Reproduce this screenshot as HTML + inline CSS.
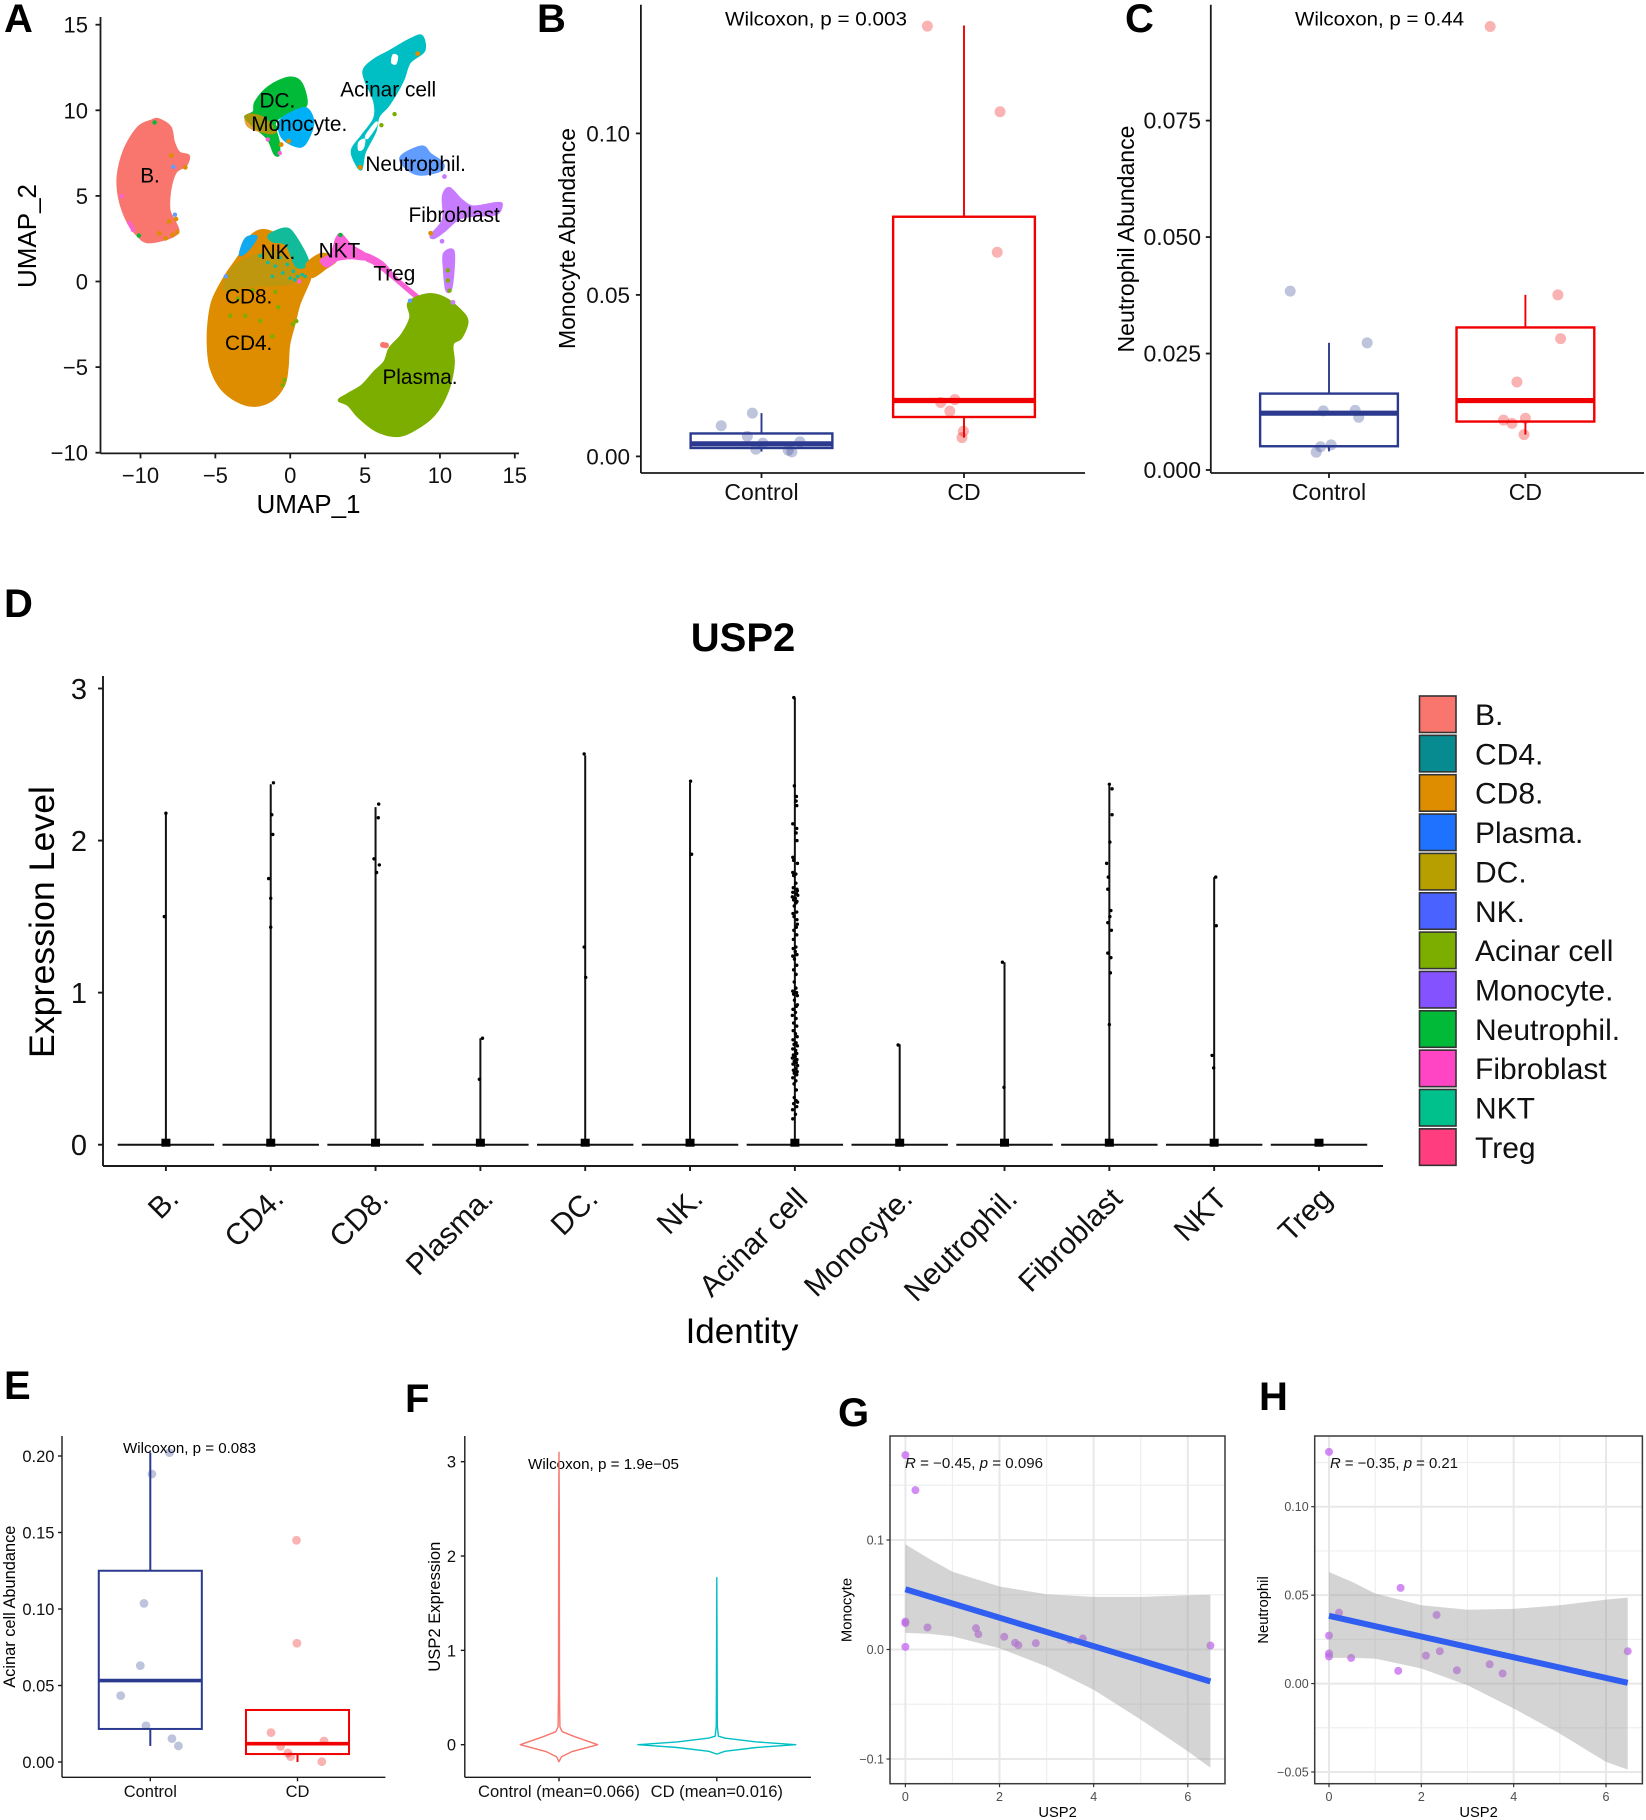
<!DOCTYPE html>
<html lang="en">
<head>
<meta charset="utf-8">
<title>USP2 single-cell figure</title>
<style>
html,body{margin:0;padding:0;background:#fff;}
svg{display:block;font-family:"Liberation Sans",Arial,sans-serif;}
.letter{font-size:40px;font-weight:bold;fill:#000;}
</style>
</head>
<body>
<svg id="figure" xmlns="http://www.w3.org/2000/svg" width="1646" height="1820" viewBox="0 0 1646 1820">
  <rect x="0" y="0" width="1646" height="1820" fill="#fff"/>

  <g id="panelA">
    <text class="letter" x="4" y="32">A</text>
    <text x="308.5" y="513" font-size="26" text-anchor="middle">UMAP_1</text>
    <text transform="translate(36,236) rotate(-90)" font-size="26" text-anchor="middle">UMAP_2</text>
  </g>

  <g id="panelB">
    <text class="letter" x="537" y="32">B</text>
    <text transform="translate(575,238.5) rotate(-90)" font-size="23" text-anchor="middle" textLength="221" lengthAdjust="spacingAndGlyphs">Monocyte Abundance</text>
    <text x="725" y="25.5" font-size="19" textLength="182" lengthAdjust="spacingAndGlyphs">Wilcoxon, p = 0.003</text>
  </g>

  <g id="panelC">
    <text class="letter" x="1125" y="32">C</text>
    <text transform="translate(1134,239) rotate(-90)" font-size="23" text-anchor="middle" textLength="227" lengthAdjust="spacingAndGlyphs">Neutrophil Abundance</text>
    <text x="1295" y="25.5" font-size="19" textLength="169" lengthAdjust="spacingAndGlyphs">Wilcoxon, p = 0.44</text>
  </g>

  <g id="panelD">
    <text class="letter" x="4" y="617">D</text>
    <text x="743" y="651" font-size="40" font-weight="bold" text-anchor="middle">USP2</text>
    <text transform="translate(54,922) rotate(-90)" font-size="35" text-anchor="middle" textLength="272" lengthAdjust="spacingAndGlyphs">Expression Level</text>
    <text x="742" y="1343" font-size="35" text-anchor="middle">Identity</text>
  </g>

  <g id="panelE">
    <text class="letter" x="4" y="1399">E</text>
    <text transform="translate(15,1606.7) rotate(-90)" font-size="16.4" text-anchor="middle">Acinar cell Abundance</text>
    <text x="123" y="1453" font-size="14.5" textLength="133" lengthAdjust="spacingAndGlyphs">Wilcoxon, p = 0.083</text>
  </g>

  <g id="panelF">
    <text class="letter" x="405" y="1412">F</text>
    <text transform="translate(440,1606.7) rotate(-90)" font-size="16.6" text-anchor="middle">USP2 Expression</text>
    <text x="528" y="1469" font-size="14.5" textLength="151" lengthAdjust="spacingAndGlyphs">Wilcoxon, p = 1.9e−05</text>
  </g>

  <g id="panelG">
    <text class="letter" x="838" y="1426">G</text>
    <text transform="translate(851.6,1610) rotate(-90)" font-size="14.8" text-anchor="middle">Monocyte</text>
    <text x="1057.6" y="1817" font-size="14.7" text-anchor="middle">USP2</text>
  </g>

  <g id="panelH">
    <text class="letter" x="1259" y="1410">H</text>
    <text transform="translate(1268,1610) rotate(-90)" font-size="14.8" text-anchor="middle">Neutrophil</text>
    <text x="1478.6" y="1817" font-size="14.7" text-anchor="middle">USP2</text>
  </g>
</svg>

<script>
/* ---------- Panel A data (UMAP coordinates) ---------- */
const umapB = [[-9.24,9.43],[-8.78,9.49],[-7.98,9.03],[-7.75,8.15],[-7.4,7.55],[-6.76,7.36],[-6.94,6.77],[-7.63,6.37],[-7.98,5.38],[-8.05,4.2],[-7.75,3.61],[-7.45,2.92],[-8.09,2.52],[-9.47,2.27],[-10.16,2.62],[-10.85,3.41],[-11.43,4.79],[-11.54,6.17],[-11.08,7.75],[-10.16,9.03]];
const umapT = [[-1.89,3.02],[-0.97,2.82],[0.41,2.23],[1.1,1.24],[1.33,0.26],[1.22,-0.14],[0.64,-1.32],[0.3,-2.5],[-0.05,-3.69],[-0.16,-5.07],[-0.39,-6.06],[-1.2,-6.94],[-2.34,-7.28],[-3.49,-7.04],[-4.64,-6.25],[-5.33,-5.07],[-5.52,-3.89],[-5.49,-2.5],[-5.22,-1.12],[-4.41,0.26],[-3.49,1.44],[-2.69,2.62]];
const umapTMix = [[-4.18,0.45],[-3.26,1.24],[-0.97,1.83],[0.41,0.65],[0.18,-0.14],[-2.8,-0.34],[-4.41,-0.53]];
const umapNK = [[-1.43,2.72],[-0.28,3.12],[0.37,2.62],[1.22,1.14],[0.41,0.85],[-0.28,2.13],[-1.2,2.33]];
const umapTBlue = [[-3.38,1.54],[-2.99,2.52],[-2.23,2.62],[-2.8,1.83]];
const umapBridge = [[1.1,1.05],[2.14,1.64],[3.06,1.24],[2.37,0.75],[1.56,0.26],[1.1,0.36]];
const umapNKT = [[3.06,2.52],[3.4,2.78],[4.09,2.13],[5.01,1.64],[4.97,1.28],[4.09,1.34],[3.17,1.24],[2.48,0.85],[2.02,1.24],[2.71,1.64]];
const umapTreg = [[5.01,1.64],[6.16,1.14],[7.08,0.26],[8.69,-0.93],[8.46,-1.03],[6.85,0.16],[5.7,0.95],[5.01,1.28]];
const umapPlasma = [[7.89,-1.22],[9.15,-0.73],[10.3,-0.93],[11.33,-1.62],[11.86,-2.31],[11.45,-3.29],[10.87,-3.69],[10.94,-4.87],[10.53,-6.45],[9.61,-7.83],[8.23,-8.72],[7.08,-9.05],[5.7,-8.72],[4.55,-7.93],[3.86,-7.24],[3.22,-6.94],[3.86,-6.55],[4.78,-6.06],[5.59,-5.27],[6.28,-4.67],[6.62,-3.89],[7.43,-3.1],[8,-2.11]];
const umapDC = [[-2.34,10.51],[-1.43,11.4],[-0.05,11.93],[0.76,11.6],[1.1,10.32],[0.18,9.92],[-0.97,9.33],[-0.74,8.15],[-0.74,7.4],[-1.08,7.46],[-1.54,8.34],[-2.57,9.13],[-3.03,9.63],[-2.46,9.92]];
const umapMonocyte = [[-0.74,9.33],[0.18,9.92],[1.1,10.12],[1.56,9.33],[1.22,8.34],[0.64,7.85],[-0.51,8.34]];
const umapMyeloidOrange = [[-2.92,9.72],[-1.89,9.63],[-0.97,8.84],[-1.43,8.64],[-2.8,9.03]];
const umapAcinar = [[8,14.16],[8.8,14.36],[8.97,13.47],[8,12.78],[7.54,11.7],[6.62,10.32],[5.93,9.63],[5.7,8.74],[5.01,7.55],[4.78,6.57],[4.44,6.77],[4.09,7.65],[4.78,8.54],[5.59,9.53],[5.59,10.51],[5.01,11.7],[4.9,12.39],[5.59,12.98],[6.62,13.47]];
const umapAcinarHoleA = [[6.85,13.27],[7.2,13.17],[7.08,12.68],[6.74,12.78]];
const umapAcinarHoleB = [[5.01,8.54],[5.7,9.33],[5.82,9.13],[5.2,8.34]];
const umapAcinarHoleC = [[4.55,8.15],[5.01,8.34],[4.9,7.75],[4.55,7.65]];
const umapNeutrophil = [[7.43,7.36],[8.8,7.91],[9.38,7.46],[10.18,6.96],[10.07,6.47],[8.57,6.23],[7.54,6.77]];
const umapFibroblast = [[10.18,4.99],[10.64,5.48],[11.45,4.79],[12.25,4.4],[13.75,4.6],[14.16,4.5],[13.75,3.91],[12.14,3.81],[11.22,3.61],[10.3,2.92],[9.61,2.52],[9.38,2.72],[10.18,3.61]];
const umapFibroStrand = [[10.25,1.64],[10.94,1.74],[10.8,-0.34],[10.41,-0.53],[10.25,0.65]];

const specksOrange = [[-7.01,6.67],[-7.63,3.65],[-8.09,3.51],[-7.93,7.36],[-8.74,2.82],[-8.32,2.52],[-7.86,2.72],[-7.56,2.88],[4.67,6.67],[9.38,2.82],[8.51,13.31],[-0.6,8.0],[-0.1,8.2]];
const specksPink = [[-10.74,3.41],[-10.51,3.02],[-11.26,4.99],[-10.6,3.2],[-1.5,8.3],[-0.7,7.5],[0.6,0.0]];
const specksGreen = [[-9.06,9.29],[-10.11,2.68],[3.36,2.72],[-1.0,9.0]];
const specksOlive = [[0.18,-2.5],[0.41,-2.31],[-0.39,-5.76],[-0.5,-6.06],[10.53,0.65],[10.53,0.06],[10.64,-0.53],[6.97,9.78],[6.09,9.13],[-3,-2],[-2,-2.3],[-4,-2],[-1,-0.6],[-2.5,-0.5],[-1.2,-3.2],[-3.5,-1],[-0.8,-1.5]];
const specksTeal = [[-0.5,0.5],[0.2,0.6],[0.5,0.3],[-1,0.9],[-1.5,1.1],[0.8,0.4],[0,0.2],[-0.2,1],[0.9,0.9],[-2,1.5],[-1.2,0.3],[0.4,1],[-0.7,1.4],[0.3,0.1],[1,0.3]];
const specksPurple = [[10.3,6.13],[10.14,2.35],[10.87,-1.22],[10.6,1.2]];
const specksBlue = [[8,-1.12],[-4.3,0.3],[-7.7,3.9],[-7.8,6.7]];
const specksRed = [[6.39,-3.73],[6.2,-3.7]];

const umapLabelNames = ['B.','DC.','Monocyte.','Acinar cell','Neutrophil.','Fibroblast','NK.','NKT','Treg','CD8.','CD4.','Plasma.'];
const umapLabelX = [-10.02,-2.05,-2.6,3.34,5.02,7.9,-1.98,1.9,5.55,-4.36,-4.36,6.16];
const umapLabelY = [5.78,10.16,8.78,10.81,6.45,3.49,1.32,1.4,0.06,-1.28,-4.0,-5.98];
const aXTicks = [-10,-5,0,5,10,15];
const aYTicks = [-10,-5,0,5,10,15];

/* ---------- Panel B data ---------- */
const groupNames = ['Control','CD'];
const bYTicks = [0,0.05,0.1];
const bYLabels = ['0.00','0.05','0.10'];
const bControlValues = [0.0095,0.0134,0.0062,0.0041,0.0022,0.0019,0.0014,0.0045];
const bControlJitter = [-0.199,-0.045,-0.07,0.007,-0.028,0.132,0.15,0.19];
const bCDValues = [0.1332,0.1067,0.0632,0.0167,0.0176,0.014,0.0078,0.0058];
const bCDJitter = [-0.181,0.178,0.164,-0.115,-0.045,-0.07,-0.003,-0.01];
const bControlBox = [0.0015,0.0026,0.0039,0.0071,0.0134];
const bCDBox = [0.0058,0.0122,0.0173,0.0742,0.1334];

/* ---------- Panel C data ---------- */
const cYTicks = [0,0.025,0.05,0.075];
const cYLabels = ['0.000','0.025','0.050','0.075'];
const cControlValues = [0.0384,0.0273,0.0127,0.0128,0.0113,0.005,0.0054,0.0038];
const cControlJitter = [-0.197,0.194,-0.029,0.133,0.151,-0.043,0.011,-0.065];
const cCDValues = [0.0952,0.0376,0.0282,0.0189,0.0107,0.01,0.0111,0.0076];
const cCDJitter = [-0.179,0.165,0.179,-0.043,-0.111,-0.068,0,-0.007];
const cControlBox = [0.004,0.0051,0.0122,0.0164,0.0273];
const cCDBox = [0.0076,0.0104,0.0149,0.0306,0.0376];

/* ---------- Panel D data ---------- */
const identityNames = ['B.','CD4.','CD8.','Plasma.','DC.','NK.','Acinar cell','Monocyte.','Neutrophil.','Fibroblast','NKT','Treg'];
const identityColors = ['#F8766D','#078A90','#DE8C00','#1F72FF','#B79F00','#4A62FF','#7CAE00','#8552FF','#00BA38','#FF45C4','#00C08B','#FF3D7F'];
const identityMax = [2.18,2.37,2.22,0.7,2.56,2.38,2.94,0.66,1.2,2.36,1.76,0];
const dYTicks = [0,1,2,3];
const cellsB = [[2.18,0],[1.5,-0.015]];
const cellsCD4 = [[2.38,0.026],[2.17,0.01],[2.04,0.02],[1.75,-0.02],[1.62,0],[1.43,0]];
const cellsCD8 = [[2.24,0.03],[2.15,0.026],[1.88,-0.015],[1.84,0.036],[1.79,0.01]];
const cellsPlasma = [[0.7,0.02],[0.43,-0.01]];
const cellsDC = [[2.57,-0.01],[1.3,-0.01],[1.1,0.005]];
const cellsNK = [[2.39,0.005],[1.91,0.015]];
const cellsAcinar = [[2.94,-0.01],[2.36,-0.005],[2.29,0.015],[2.26,0.012],[2.23,0.018],[2.11,-0.02],[2.08,0.018],[2.05,0.012],[2.0,0.02],[1.89,-0.02],[1.87,-0.012],[1.85,0.025],[1.79,-0.02],[1.78,0.01],[1.77,-0.012],[1.72,0.01],[1.69,-0.015],[1.68,0.02],[1.67,0.024],[1.66,-0.02],[1.65,0.015],[1.64,0.028],[1.63,-0.024],[1.62,0.005],[1.61,-0.012],[1.6,0.02],[1.59,0.012],[1.57,-0.006],[1.53,0.018],[1.52,-0.018],[1.5,-0.008],[1.48,0.02],[1.45,0.024],[1.43,0.014],[1.41,-0.01],[1.38,0.018],[1.35,-0.014],[1.3,0.01],[1.29,-0.016],[1.27,0.004],[1.25,0.02],[1.24,-0.02],[1.22,-0.004],[1.18,0.018],[1.15,-0.012],[1.12,0.012],[1.07,-0.006],[1.03,0.01],[1.01,-0.02],[1.0,0.016],[0.99,-0.012],[0.98,0.024],[0.95,-0.004],[0.92,0.024],[0.91,0.014],[0.89,-0.018],[0.87,0.006],[0.85,-0.024],[0.83,0.012],[0.8,-0.012],[0.78,0.018],[0.75,-0.016],[0.73,0.006],[0.71,0.022],[0.69,-0.018],[0.67,0.012],[0.66,-0.008],[0.65,0.024],[0.63,-0.02],[0.62,0.008],[0.6,0.018],[0.59,-0.014],[0.58,0.004],[0.57,-0.024],[0.56,0.02],[0.55,-0.006],[0.54,0.014],[0.53,-0.018],[0.52,0.026],[0.5,0.012],[0.49,-0.014],[0.48,0.022],[0.47,-0.006],[0.46,0.018],[0.44,-0.02],[0.42,0.01],[0.4,-0.008],[0.36,0.014],[0.31,-0.006],[0.29,0.012],[0.28,0.026],[0.27,-0.012],[0.25,0.018],[0.23,-0.022],[0.2,0.006],[0.17,-0.02]];
const cellsMonocyte = [[0.656,-0.015]];
const cellsNeutrophil = [[1.2,-0.02],[0.377,-0.005]];
const cellsFibroblast = [[2.37,0],[2.34,0.026],[2.17,0.026],[1.99,0.005],[1.85,-0.026],[1.76,-0.01],[1.68,-0.015],[1.54,0.015],[1.5,0.005],[1.46,-0.015],[1.41,0.02],[1.26,-0.015],[1.23,0.015],[1.13,0.01],[0.79,0]];
const cellsNKT = [[1.76,0.015],[1.44,0.02],[0.587,-0.02],[0.505,-0.005]];
const cellsTreg = [];
const identityCells = [cellsB,cellsCD4,cellsCD8,cellsPlasma,cellsDC,cellsNK,cellsAcinar,cellsMonocyte,cellsNeutrophil,cellsFibroblast,cellsNKT,cellsTreg];

/* ---------- Panel E data ---------- */
const eYTicks = [0,0.05,0.1,0.15,0.2];
const eYLabels = ['0.00','0.05','0.10','0.15','0.20'];
const eControlValues = [0.2022,0.1882,0.1037,0.063,0.0434,0.0237,0.0153,0.0105];
const eControlJitter = [0.13,0.011,-0.043,-0.068,-0.201,-0.029,0.147,0.191];
const eCDValues = [0.1449,0.0776,0.0192,0.0137,0.0102,0.0059,0.0035,0.0002];
const eCDJitter = [-0.007,-0.004,-0.18,0.18,-0.115,-0.065,-0.047,0.165];
const eControlBox = [0.0105,0.0216,0.0532,0.125,0.2022];
const eCDBox = [0,0.0052,0.012,0.034,0.034];

/* ---------- Panel F data ---------- */
const fGroupNames = ['Control (mean=0.066)','CD (mean=0.016)'];
const fYTicks = [0,1,2,3];
const fControlLevels = [-0.18,-0.127,-0.074,0,0.085,0.138,0.19,0.54,2.38,3.1];
const fControlWidths = [0,0.016,0.08,0.245,0.1,0.02,0.006,0.003,0.002,0];
const fCDLevels = [-0.1,-0.07,-0.03,0,0.03,0.07,0.09,0.2,1.77];
const fCDWidths = [0,0.05,0.25,0.5,0.25,0.05,0.01,0.003,0];

/* ---------- Panel G data ---------- */
const gXTicks = [0,2,4,6];
const gXMinor = [1,3,5];
const gYTicks = [-0.1,0,0.1];
const gYLabels = ['−0.1','0.0','0.1'];
const gYMinor = [-0.05,0.05,0.15];
const gUsp2 = [0,0.213,0,0,0.47,1.5,1.55,2.1,2.33,2.4,2.77,3.5,3.77,0,6.48];
const gMonocyte = [0.1775,0.1455,0.0255,0.024,0.0201,0.0195,0.014,0.0116,0.0061,0.004,0.0058,0.0088,0.01,0.0024,0.0036];
const gBandX = [0,0.5,1,2,3,4,5,6,6.48];
const gBandUpper = [0.096,0.083,0.071,0.0575,0.0505,0.048,0.048,0.0495,0.05];
const gBandLower = [0.0152,0.0143,0.012,0.0012,-0.0155,-0.0368,-0.064,-0.093,-0.108];
const gFitX = [0,6.48];
const gFitY = [0.055,-0.0292];

/* ---------- Panel H data ---------- */
const hXTicks = [0,2,4,6];
const hXMinor = [1,3,5];
const hYTicks = [-0.05,0,0.05,0.1];
const hYLabels = ['−0.05','0.00','0.05','0.10'];
const hYMinor = [-0.025,0.025,0.075,0.125];
const hUsp2 = [0,0.217,0,0,0,0.48,1.5,1.55,2.1,2.33,2.4,2.77,3.48,3.76,6.47];
const hNeutrophil = [0.131,0.0401,0.0271,0.017,0.0153,0.0145,0.0072,0.0541,0.0158,0.0388,0.0183,0.0075,0.0109,0.0057,0.0183];
const hBandX = [0,0.5,1,2,3,4,5,6,6.47];
const hBandUpper = [0.0631,0.0575,0.0509,0.0443,0.0417,0.0422,0.0443,0.0475,0.0486];
const hBandLower = [0.0145,0.0145,0.0141,0.0085,-0.0009,-0.0141,-0.0283,-0.0443,-0.0486];
const hFitX = [0,6.47];
const hFitY = [0.0383,0.0004];

/* ---------- Helpers ---------- */
const NS = 'http://www.w3.org/2000/svg';
const AXIS = '#1a1a1a';
const NAVY = '#2B3A8F';
const RED = '#F00000';

function linear(d0, d1, r0, r1) {
  return function (v) { return r0 + (v - d0) * (r1 - r0) / (d1 - d0); };
}
function mk(parent, tag, attrs, name) {
  const el = document.createElementNS(NS, tag);
  for (const k in attrs) el.setAttribute(k, attrs[k]);
  
  
  parent.appendChild(el);
  return el;
}
function label(parent, attrs, str, name) {
  const el = mk(parent, 'text', attrs, name);
  el.textContent = str;
  return el;
}
function fmt(v) { return String(v).replace('-', '−'); }

function axisLeft(g, x, top, bottom, ticks, labels, scale, o) {
  mk(g, 'line', {x1:x, x2:x, y1:top, y2:bottom, stroke:AXIS, 'stroke-width':o.sw}, o.name + '-y-axis-line');
  ticks.forEach(function (t, i) {
    const y = scale(t);
    mk(g, 'line', {x1:x - o.tick, x2:x, y1:y, y2:y, stroke:AXIS, 'stroke-width':o.sw}, o.name + '-y-tick');
    label(g, {x:o.labelX, y:y + o.dy, 'font-size':o.font, 'text-anchor':'end', fill:o.fill || '#111'}, labels[i], o.name + '-y-tick-label');
  });
}
function axisBottom(g, y, left, right, ticks, labels, scale, o) {
  mk(g, 'line', {x1:left, x2:right, y1:y, y2:y, stroke:AXIS, 'stroke-width':o.sw}, o.name + '-x-axis-line');
  ticks.forEach(function (t, i) {
    const x = scale(t);
    mk(g, 'line', {x1:x, x2:x, y1:y, y2:y + o.tick, stroke:AXIS, 'stroke-width':o.sw}, o.name + '-x-tick');
    label(g, {x:x, y:o.labelY, 'font-size':o.font, 'text-anchor':'middle', fill:o.fill || '#111'}, labels[i], o.name + '-x-tick-label');
  });
}
function boxplot(g, cx, unit, stats, color, y, o) {
  const hw = 0.35 * unit;
  mk(g, 'line', {x1:cx, x2:cx, y1:y(stats[3]), y2:y(stats[4]), stroke:color, 'stroke-width':o.whisker}, o.name + '-upper-whisker');
  mk(g, 'line', {x1:cx, x2:cx, y1:y(stats[1]), y2:y(stats[0]), stroke:color, 'stroke-width':o.whisker}, o.name + '-lower-whisker');
  mk(g, 'rect', {x:cx - hw, width:2 * hw, y:y(stats[3]), height:y(stats[1]) - y(stats[3]), fill:'none', stroke:color, 'stroke-width':o.box}, o.name + '-box');
  mk(g, 'line', {x1:cx - hw, x2:cx + hw, y1:y(stats[2]), y2:y(stats[2]), stroke:color, 'stroke-width':o.median}, o.name + '-median');
}
function jitterDots(g, cx, unit, values, jitter, color, y, r, name) {
  values.forEach(function (v, i) {
    mk(g, 'circle', {cx:cx + jitter[i] * unit, cy:y(v), r:r, fill:color, 'fill-opacity':0.3}, name + '-point');
  });
}
/* closed Catmull-Rom outline through the cluster's UMAP coordinates */
function blob(g, pts, sx, sy, fill, name, extra) {
  const p = pts.map(function (q) { return [sx(q[0]), sy(q[1])]; });
  const n = p.length;
  let d = 'M' + p[0][0].toFixed(1) + ' ' + p[0][1].toFixed(1);
  for (let i = 0; i < n; i++) {
    const a = p[(i + n - 1) % n], b = p[i], c = p[(i + 1) % n], e = p[(i + 2) % n];
    const c1x = b[0] + (c[0] - a[0]) / 6, c1y = b[1] + (c[1] - a[1]) / 6;
    const c2x = c[0] - (e[0] - b[0]) / 6, c2y = c[1] - (e[1] - b[1]) / 6;
    d += 'C' + c1x.toFixed(1) + ' ' + c1y.toFixed(1) + ' ' + c2x.toFixed(1) + ' ' + c2y.toFixed(1) + ' ' + c[0].toFixed(1) + ' ' + c[1].toFixed(1);
  }
  const attrs = {d: d + 'Z', fill: fill, stroke: fill, 'stroke-width': 1.5, 'stroke-linejoin': 'round'};
  for (const k in (extra || {})) attrs[k] = extra[k];
  return mk(g, 'path', attrs, name);
}

/* ---------- Panel A ---------- */
(function () {
  const g = document.getElementById('panelA');
  const sx = linear(-10, 15, 140.5, 514.8);
  const sy = linear(-10, 15, 452.7, 24.7);
  blob(g, umapB, sx, sy, '#F8766D', 'b-cell-cluster');
  blob(g, umapT, sx, sy, '#DE8C00', 'cd4-cd8-cluster');
  blob(g, umapTMix, sx, sy, '#9AA520', 'cd8-mixed-region', {'fill-opacity':0.45, 'stroke-opacity':0});
  blob(g, umapNK, sx, sy, '#12BC9B', 'nk-cluster');
  blob(g, umapTBlue, sx, sy, '#12A9EE', 'nk-blue-edge');
  blob(g, umapBridge, sx, sy, '#DE8C00', 'nkt-bridge-cluster');
  blob(g, umapNKT, sx, sy, '#FB61D7', 'nkt-cluster');
  blob(g, umapTreg, sx, sy, '#FB61D7', 'treg-cluster');
  blob(g, umapPlasma, sx, sy, '#7CAE00', 'plasma-cluster');
  blob(g, umapDC, sx, sy, '#00BA38', 'dc-cluster');
  blob(g, umapMonocyte, sx, sy, '#00B0F6', 'monocyte-cluster');
  blob(g, umapMyeloidOrange, sx, sy, '#DE8C00', 'myeloid-orange-patch', {'fill-opacity':0.75, 'stroke-opacity':0.6});
  blob(g, umapAcinar, sx, sy, '#00BFC4', 'acinar-cluster');
  blob(g, umapAcinarHoleA, sx, sy, '#fff', 'acinar-gap', {'stroke-width':0});
  blob(g, umapAcinarHoleB, sx, sy, '#fff', 'acinar-gap', {'stroke-width':0});
  blob(g, umapAcinarHoleC, sx, sy, '#fff', 'acinar-gap', {'stroke-width':0});
  blob(g, umapNeutrophil, sx, sy, '#619CFF', 'neutrophil-cluster');
  blob(g, umapFibroblast, sx, sy, '#C77CFF', 'fibroblast-cluster');
  blob(g, umapFibroStrand, sx, sy, '#C77CFF', 'fibroblast-strand');
  function specks(list, color, r, name) {
    list.forEach(function (p) {
      mk(g, 'circle', {cx:sx(p[0]), cy:sy(p[1]), r:r, fill:color}, name);
    });
  }
  specks(specksTeal, '#12BC9B', 1.8, 'teal-cell-point');
  specks(specksOlive, '#7CAE00', 2.2, 'olive-cell-point');
  specks(specksOrange, '#DE8C00', 2.4, 'orange-cell-point');
  specks(specksPink, '#FB61D7', 2.2, 'pink-cell-point');
  specks(specksGreen, '#00BA38', 2.2, 'green-cell-point');
  specks(specksPurple, '#C77CFF', 2.4, 'purple-cell-point');
  specks(specksBlue, '#619CFF', 2.2, 'blue-cell-point');
  specks(specksRed, '#F8766D', 3, 'red-cell-point');
  umapLabelNames.forEach(function (n, i) {
    label(g, {x:sx(umapLabelX[i]), y:sy(umapLabelY[i]), 'font-size':20.8, fill:'#000'}, n, 'cluster-label');
  });
  axisLeft(g, 100.5, 17, 453.4, aYTicks, aYTicks.map(fmt), sy, {name:'umap', sw:1.8, tick:5, labelX:88, dy:8, font:22});
  axisBottom(g, 453.4, 100.5, 519, aXTicks, aXTicks.map(fmt), sx, {name:'umap', sw:1.8, tick:5, labelY:483, font:22});
})();

/* ---------- Panel B ---------- */
(function () {
  const g = document.getElementById('panelB');
  const y = linear(0, 0.1, 456.4, 133.4);
  const x = linear(0, 1, 761.5, 964);
  const unit = 202.5;
  jitterDots(g, x(0), unit, bControlValues, bControlJitter, NAVY, y, 5.5, 'monocyte-control');
  jitterDots(g, x(1), unit, bCDValues, bCDJitter, RED, y, 5.5, 'monocyte-cd');
  const opt = {whisker:1.9, box:2.4, median:5.2};
  opt.name = 'monocyte-control';
  boxplot(g, x(0), unit, bControlBox, NAVY, y, opt);
  opt.name = 'monocyte-cd';
  boxplot(g, x(1), unit, bCDBox, RED, y, opt);
  axisLeft(g, 640.9, 4.7, 473, bYTicks, bYLabels, y, {name:'monocyte', sw:1.8, tick:5, labelX:630, dy:8, font:22.5});
  axisBottom(g, 473, 640.9, 1085, [0,1], groupNames, x, {name:'monocyte', sw:1.8, tick:5, labelY:500, font:23});
})();

/* ---------- Panel C ---------- */
(function () {
  const g = document.getElementById('panelC');
  const y = linear(0, 0.075, 470, 120.6);
  const x = linear(0, 1, 1329, 1525.4);
  const unit = 196.8;
  jitterDots(g, x(0), unit, cControlValues, cControlJitter, NAVY, y, 5.5, 'neutrophil-control');
  jitterDots(g, x(1), unit, cCDValues, cCDJitter, RED, y, 5.5, 'neutrophil-cd');
  const opt = {whisker:1.9, box:2.4, median:5.2};
  opt.name = 'neutrophil-control';
  boxplot(g, x(0), unit, cControlBox, NAVY, y, opt);
  opt.name = 'neutrophil-cd';
  boxplot(g, x(1), unit, cCDBox, RED, y, opt);
  axisLeft(g, 1210.8, 4.7, 473, cYTicks, cYLabels, y, {name:'neutrophil', sw:1.8, tick:5, labelX:1201, dy:8, font:23});
  axisBottom(g, 473, 1210.8, 1644, [0,1], groupNames, x, {name:'neutrophil', sw:1.8, tick:5, labelY:500, font:23});
})();

/* ---------- Panel D ---------- */
(function () {
  const g = document.getElementById('panelD');
  const y = linear(0, 3, 1144.7, 688.5);
  const x = linear(0, 11, 165.9, 1319);
  const unit = 104.8;
  identityNames.forEach(function (n, i) {
    const cx = x(i);
    mk(g, 'line', {x1:cx - 0.46 * unit, x2:cx + 0.46 * unit, y1:y(0), y2:y(0), stroke:'#111', 'stroke-width':2}, 'violin-base-' + i);
    if (identityMax[i] > 0) {
      mk(g, 'line', {x1:cx, x2:cx, y1:y(0), y2:y(identityMax[i]), stroke:'#111', 'stroke-width':2}, 'violin-spike-' + i);
    }
    mk(g, 'rect', {x:cx - 4.5, y:y(0) - 6, width:9, height:8, fill:'#000'}, 'zero-expression-cells-' + i);
    identityCells[i].forEach(function (c) {
      mk(g, 'circle', {cx:cx + c[1] * unit, cy:y(c[0]), r:1.7, fill:'#000'}, 'cell-point-' + i);
    });
  });
  axisLeft(g, 103, 676, 1166, dYTicks, dYTicks.map(String), y, {name:'expression', sw:1.9, tick:5, labelX:87, dy:10.5, font:29});
  mk(g, 'line', {x1:103, x2:1383, y1:1166, y2:1166, stroke:AXIS, 'stroke-width':1.9}, 'identity-x-axis-line');
  identityNames.forEach(function (n, i) {
    const cx = x(i);
    mk(g, 'line', {x1:cx, x2:cx, y1:1166, y2:1171, stroke:AXIS, 'stroke-width':1.9}, 'identity-x-tick');
    label(g, {transform:'translate(' + (cx + 14.5) + ',1200.5) rotate(-45)', 'font-size':30, 'text-anchor':'end', fill:'#111'}, n, 'identity-x-tick-label');
  });
  identityNames.forEach(function (n, i) {
    const top = 696 + i * 39.35;
    mk(g, 'rect', {x:1419.5, y:top, width:36.5, height:36.5, fill:identityColors[i], stroke:'#333', 'stroke-width':1.6}, 'legend-swatch-' + i);
    label(g, {x:1475, y:top + 29, 'font-size':30, fill:'#111'}, n, 'legend-label-' + i);
  });
})();

/* ---------- Panel E ---------- */
(function () {
  const g = document.getElementById('panelE');
  const y = linear(0, 0.2, 1762, 1456);
  const x = linear(0, 1, 150.3, 297.5);
  const unit = 147.2;
  jitterDots(g, x(0), unit, eControlValues, eControlJitter, NAVY, y, 4.4, 'acinar-control');
  jitterDots(g, x(1), unit, eCDValues, eCDJitter, RED, y, 4.4, 'acinar-cd');
  const opt = {whisker:2, box:2, median:3.6};
  opt.name = 'acinar-control';
  boxplot(g, x(0), unit, eControlBox, NAVY, y, opt);
  opt.name = 'acinar-cd';
  boxplot(g, x(1), unit, eCDBox, RED, y, opt);
  axisLeft(g, 62, 1436, 1777.3, eYTicks, eYLabels, y, {name:'acinar', sw:1.4, tick:4, labelX:54.5, dy:6, font:16.5});
  axisBottom(g, 1777.3, 62, 385.4, [0,1], groupNames, x, {name:'acinar', sw:1.4, tick:4, labelY:1797, font:16.5});
})();

/* ---------- Panel F ---------- */
(function () {
  const g = document.getElementById('panelF');
  const y = linear(0, 3, 1744.7, 1461.7);
  const x = linear(0, 1, 559, 716.8);
  const unit = 157.8;
  function violin(levels, widths, cx, color, name) {
    const right = levels.map(function (v, i) { return (cx + widths[i] * unit).toFixed(1) + ',' + y(v).toFixed(1); });
    const left = levels.map(function (v, i) { return (cx - widths[i] * unit).toFixed(1) + ',' + y(v).toFixed(1); }).reverse();
    mk(g, 'polygon', {points:right.concat(left).join(' '), fill:'none', stroke:color, 'stroke-width':1.4, 'stroke-linejoin':'round'}, name);
  }
  violin(fControlLevels, fControlWidths, x(0), '#F8766D', 'control-usp2-violin');
  violin(fCDLevels, fCDWidths, x(1), '#00BFC4', 'cd-usp2-violin');
  axisLeft(g, 464.8, 1436, 1777.3, fYTicks, fYTicks.map(String), y, {name:'usp2', sw:1.4, tick:4, labelX:456, dy:6, font:16.5});
  axisBottom(g, 1777.3, 464.8, 811, [0,1], fGroupNames, x, {name:'usp2', sw:1.4, tick:4, labelY:1797, font:16.6});
})();

/* ---------- Panels G + H ---------- */
function scatterPanel(g, o) {
  const box = o.box;
  const sx = o.sx, sy = o.sy;
  o.xMinor.forEach(function (t) {
    mk(g, 'line', {x1:sx(t), x2:sx(t), y1:box.top, y2:box.bottom, stroke:'#EFEFEF', 'stroke-width':1.2}, o.name + '-minor-grid-x');
  });
  o.yMinor.forEach(function (t) {
    mk(g, 'line', {x1:box.left, x2:box.right, y1:sy(t), y2:sy(t), stroke:'#EFEFEF', 'stroke-width':1.2}, o.name + '-minor-grid-y');
  });
  o.xTicks.forEach(function (t) {
    mk(g, 'line', {x1:sx(t), x2:sx(t), y1:box.top, y2:box.bottom, stroke:'#E8E8E8', 'stroke-width':2}, o.name + '-major-grid-x');
  });
  o.yTicks.forEach(function (t) {
    mk(g, 'line', {x1:box.left, x2:box.right, y1:sy(t), y2:sy(t), stroke:'#E8E8E8', 'stroke-width':2}, o.name + '-major-grid-y');
  });
  o.px.forEach(function (v, i) {
    mk(g, 'circle', {cx:sx(v), cy:sy(o.py[i]), r:4, fill:'#C060F0', 'fill-opacity':0.72}, o.name + '-sample-point');
  });
  const up = o.bandX.map(function (v, i) { return sx(v).toFixed(1) + ',' + sy(o.bandUpper[i]).toFixed(1); });
  const lo = o.bandX.map(function (v, i) { return sx(v).toFixed(1) + ',' + sy(o.bandLower[i]).toFixed(1); }).reverse();
  mk(g, 'polygon', {points:up.concat(lo).join(' '), fill:'#999', 'fill-opacity':0.42}, o.name + '-confidence-band');
  mk(g, 'line', {x1:sx(o.fitX[0]), x2:sx(o.fitX[1]), y1:sy(o.fitY[0]), y2:sy(o.fitY[1]), stroke:'#2F5EF0', 'stroke-width':6}, o.name + '-fit-line');
  mk(g, 'rect', {x:box.left, y:box.top, width:box.right - box.left, height:box.bottom - box.top, fill:'none', stroke:'#3a3a3a', 'stroke-width':1.5}, o.name + '-panel-border');
  o.xTicks.forEach(function (t) {
    mk(g, 'line', {x1:sx(t), x2:sx(t), y1:box.bottom, y2:box.bottom + 3.5, stroke:'#333', 'stroke-width':1.2}, o.name + '-x-tick');
    label(g, {x:sx(t), y:1801, 'font-size':12.5, 'text-anchor':'middle', fill:'#4D4D4D'}, String(t), o.name + '-x-tick-label');
  });
  o.yTicks.forEach(function (t, i) {
    mk(g, 'line', {x1:box.left - 3.5, x2:box.left, y1:sy(t), y2:sy(t), stroke:'#333', 'stroke-width':1.2}, o.name + '-y-tick');
    label(g, {x:box.left - 6, y:sy(t) + 4.5, 'font-size':12.5, 'text-anchor':'end', fill:'#4D4D4D'}, o.yLabels[i], o.name + '-y-tick-label');
  });
}

(function () {
  const g = document.getElementById('panelG');
  scatterPanel(g, {
    name:'g',
    box:{left:890, right:1225, top:1436, bottom:1783.7},
    sx:linear(0, 6, 905.4, 1187.8),
    sy:linear(-0.1, 0.1, 1759, 1540),
    xTicks:gXTicks, xMinor:gXMinor, yTicks:gYTicks, yLabels:gYLabels, yMinor:gYMinor,
    px:gUsp2, py:gMonocyte, bandX:gBandX, bandUpper:gBandUpper, bandLower:gBandLower, fitX:gFitX, fitY:gFitY
  });
  const t = mk(g, 'text', {x:905, y:1468, 'font-size':14.5, fill:'#111', textLength:138, lengthAdjust:'spacingAndGlyphs'}, 'g-correlation-label');
  t.innerHTML = '<tspan font-style="italic">R</tspan> = −0.45, <tspan font-style="italic">p</tspan> = 0.096';
})();

(function () {
  const g = document.getElementById('panelH');
  scatterPanel(g, {
    name:'h',
    box:{left:1314.7, right:1642.4, top:1436, bottom:1783.7},
    sx:linear(0, 6, 1329, 1606),
    sy:linear(-0.05, 0.1, 1772, 1506.7),
    xTicks:hXTicks, xMinor:hXMinor, yTicks:hYTicks, yLabels:hYLabels, yMinor:hYMinor,
    px:hUsp2, py:hNeutrophil, bandX:hBandX, bandUpper:hBandUpper, bandLower:hBandLower, fitX:hFitX, fitY:hFitY
  });
  const t = mk(g, 'text', {x:1330, y:1468, 'font-size':14.5, fill:'#111', textLength:128, lengthAdjust:'spacingAndGlyphs'}, 'h-correlation-label');
  t.innerHTML = '<tspan font-style="italic">R</tspan> = −0.35, <tspan font-style="italic">p</tspan> = 0.21';
})();
</script>
</body>
</html>
